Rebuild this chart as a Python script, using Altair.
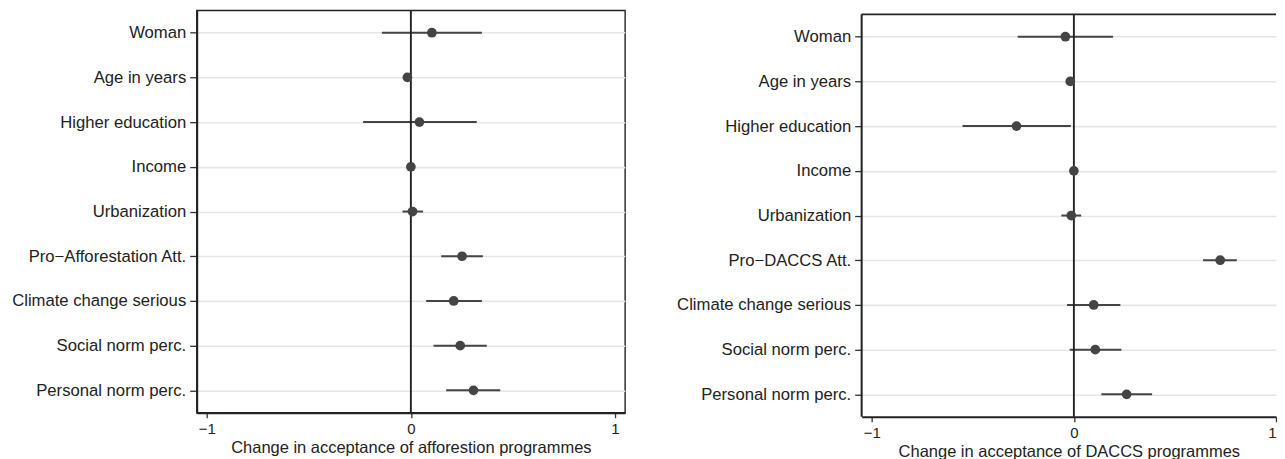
import altair as alt
import pandas as pd

labels = ["Woman", "Age in years", "Higher education", "Income", "Urbanization",
          "Pro\u2212Afforestation Att.", "Climate change serious", "Social norm perc.",
          "Personal norm perc."]
labels_r = ["Woman", "Age in years", "Higher education", "Income", "Urbanization",
            "Pro\u2212DACCS Att.", "Climate change serious", "Social norm perc.",
            "Personal norm perc."]

aff_est = [0.103, -0.017, 0.042, 0.000, 0.008, 0.251, 0.210, 0.242, 0.307]
aff_lo = [-0.142, -0.024, -0.234, -0.004, -0.041, 0.149, 0.075, 0.111, 0.173]
aff_hi = [0.348, -0.010, 0.323, 0.004, 0.060, 0.353, 0.348, 0.372, 0.438]

dac_est = [-0.042, -0.018, -0.284, 0.000, -0.013, 0.724, 0.098, 0.106, 0.261]
dac_lo = [-0.278, -0.024, -0.551, -0.004, -0.062, 0.639, -0.034, -0.021, 0.136]
dac_hi = [0.194, -0.012, -0.015, 0.004, 0.036, 0.806, 0.230, 0.235, 0.387]

x_ticks = [-1, 0, 1]

FONT = "Liberation Sans"
DARK = "#444444"
FRAME = "#222222"
LABEL_EXPR = "(datum.value < 0 ? '\u2212' : '') + toString(abs(datum.value))"


def panel(lbls, est, lo, hi, title, width, xmax, height, y0, framed):
    df = pd.DataFrame({"label": lbls, "est": est, "lo": lo, "hi": hi})
    one = alt.Chart(pd.DataFrame({"ref": [0]}))
    xscale = alt.Scale(domain=[-1.05, xmax], nice=False, zero=False)
    yscale = alt.Scale(type="point", padding=0.5, range=[y0, height])
    yenc = alt.Y("label:N", sort=lbls, title=None, scale=yscale,
                 axis=alt.Axis(grid=True, gridColor="#e6e6e6", gridWidth=1.6,
                               labelFontSize=16.7, tickSize=7, labelPadding=4,
                               domain=framed))
    base = alt.Chart(df)
    zero = one.mark_rule(color=FRAME, strokeWidth=1.9).encode(
        x=alt.X("ref:Q", scale=xscale), y=alt.value(y0), y2=alt.value(height))
    ci = base.mark_rule(color=DARK, strokeWidth=2).encode(
        x=alt.X("lo:Q", scale=xscale,
                axis=alt.Axis(values=x_ticks, labelExpr=LABEL_EXPR, title=title,
                              grid=False, labelFontSize=15, tickSize=5,
                              labelPadding=4, labelFlush=not framed,
                              titleFontSize=16.5, titlePadding=3)),
        x2="hi:Q",
        y=yenc,
    )
    pts = base.mark_point(filled=True, shape="circle", size=95, color=DARK,
                          opacity=1).encode(
        x=alt.X("est:Q", scale=xscale),
        y=alt.Y("label:N", sort=lbls, scale=yscale),
    )
    layers = [ci, zero, pts]
    if not framed:
        top = one.mark_rule(color=FRAME, strokeWidth=1.6).encode(
            x=alt.value(0), x2=alt.value(width), y=alt.value(y0))
        left_edge = one.mark_rule(color=FRAME, strokeWidth=2).encode(
            x=alt.value(0), y=alt.value(y0), y2=alt.value(height))
        layers += [top, left_edge]
    ch = alt.layer(*layers).properties(width=width, height=height)
    if not framed:
        ch = ch.properties(view=alt.ViewBackground(stroke=None))
    return ch


left = panel(labels, aff_est, aff_lo, aff_hi,
             "Change in acceptance of afforestion programmes",
             width=429, xmax=1.05, height=403, y0=0, framed=True)
right = panel(labels_r, dac_est, dac_lo, dac_hi,
              "Change in acceptance of DACCS programmes",
              width=415, xmax=1.0, height=407, y0=4, framed=False)

chart = alt.hconcat(left, right, spacing=50).properties(
    padding={"left": 2, "top": 0, "right": 0, "bottom": 0}
).configure_view(
    stroke=FRAME, strokeWidth=1.4
).configure_axis(
    labelFont=FONT, titleFont=FONT, labelColor="#222222", titleColor="#222222",
    titleFontWeight="normal", domainColor=FRAME, domainWidth=2,
    tickColor="#333333", tickWidth=1.3
)

chart.save("out.html", embed_options={"renderer": "svg", "actions": False})
